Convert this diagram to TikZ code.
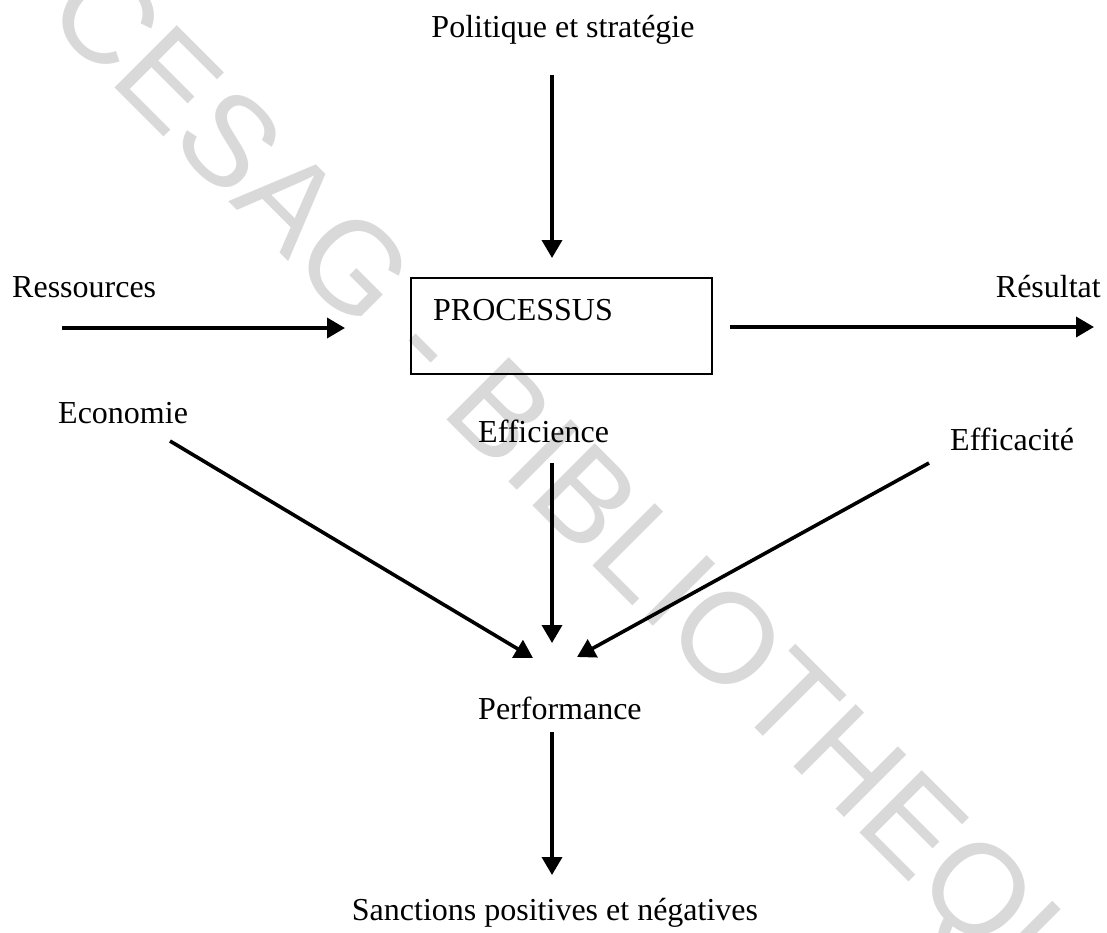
\documentclass[tikz,border=0pt]{standalone}
\usepackage{fontspec}
\setmainfont{Liberation Serif}
\newfontfamily\wmfont{Liberation Sans}
\usetikzlibrary{arrows.meta}
\definecolor{wmgray}{RGB}{217,217,217}
\begin{document}
\begin{tikzpicture}[x=1pt,y=-1pt,
  lbl/.style={inner sep=0pt,font=\fontsize{32}{36}\selectfont},
  flow/.style={line width=3.6pt,-{Triangle[length=18pt,width=20pt]}},
  procbox/.style={draw,line width=1.5pt,inner sep=0pt,minimum width=301pt,minimum height=96pt}]
\useasboundingbox (0,0) rectangle (1107,932);
\fill[white] (0,0) rectangle (1107,932);

% watermark along the diagonal
\node[anchor=base west,inner sep=0pt,rotate=-45,text=wmgray,
      font=\wmfont\fontsize{128}{130}\selectfont] (wm) at (42.4,15.4) {CESAG - BIBLIOTHEQUE};

% labels
\node[lbl,anchor=base] (pol) at (563,37) {Politique et stratégie};
\node[lbl,anchor=base west] (ress) at (12,297) {Ressources};
\node[lbl,anchor=base east] (res) at (1101,297) {Résultat};
\node[procbox] (proc) at (561.5,326) {};
\node[lbl,anchor=base west] (proct) at (433,320) {PROCESSUS};
\node[lbl,anchor=base west] (eco) at (58,423) {Economie};
\node[lbl,anchor=base west] (effi) at (478,442) {Efficience};
\node[lbl,anchor=base west] (effa) at (950,450) {Efficacité};
\node[lbl,anchor=base west] (perf) at (478,719) {Performance};
\node[lbl,anchor=base] (sanc) at (555,920) {Sanctions positives et négatives};

% connector end points
\coordinate (polS) at (552,75);   \coordinate (polE) at (552,258);
\coordinate (ressS) at (62,328);  \coordinate (ressE) at (345,328);
\coordinate (resS) at (730,327);  \coordinate (resE) at (1094,327);
\coordinate (ecoS) at (170,441);  \coordinate (ecoE) at (533,658);
\coordinate (effiS) at (552,463); \coordinate (effiE) at (552,643);
\coordinate (effaS) at (929,463); \coordinate (effaE) at (577,657);
\coordinate (perfS) at (552,732); \coordinate (perfE) at (552,875);

% arrows
\draw[flow] (polS) -- (polE);
\draw[flow] (ressS) -- (ressE);
\draw[flow] (resS) -- (resE);
\draw[flow] (ecoS) -- (ecoE);
\draw[flow] (effiS) -- (effiE);
\draw[flow] (effaS) -- (effaE);
\draw[flow] (perfS) -- (perfE);
\end{tikzpicture}
\end{document}
